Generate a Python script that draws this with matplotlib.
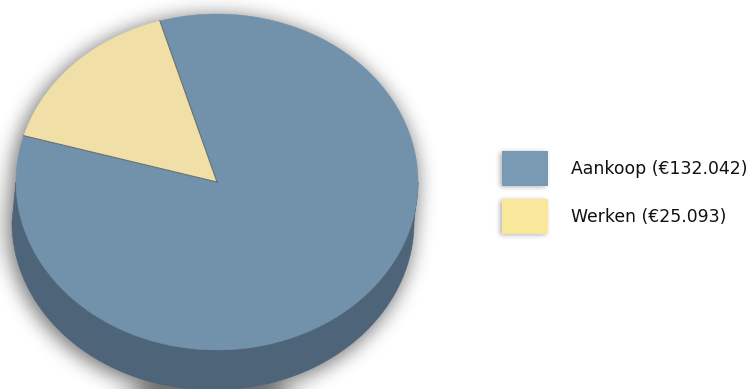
import numpy as np
import matplotlib.pyplot as plt
from matplotlib.patches import Polygon, Rectangle

labels = ['Aankoop', 'Werken']
values = [132042, 25093]
value_text = ['€132.042', '€25.093']
top_colors = ['#7291AB', '#F0DFA7']
side_colors = ['#4E6479', '#B8A878']
legend_colors = ['#7A9AB3', '#F9E79B']

W, H = 750, 389
cx, cy = 217, 182          # centre of top face (pixels)
rx, ry = 201, 168          # radii of top face
depth = 40                 # thickness of the disc
shift = -4                 # bottom face slightly shifted left
start = 164                # angle where Werken ends / Aankoop begins (deg)

fig = plt.figure(figsize=(W / 100, H / 100), dpi=100)
ax = fig.add_axes([0, 0, 1, 1])
ax.set_xlim(0, W)
ax.set_ylim(H, 0)
ax.axis('off')


def ell(a_deg, dx=0, dy=0):
    a = np.radians(a_deg)
    return np.column_stack([cx + dx + rx * np.cos(a), cy + dy - ry * np.sin(a)])


def blur(img, k, n=3):
    h, w = img.shape
    for _ in range(n):
        c = np.cumsum(np.pad(img, ((0, 0), (k, k + 1)), mode='edge'), axis=1)
        img = (c[:, 2 * k + 1:] - c[:, :-2 * k - 1]) / (2 * k + 1)
        c = np.cumsum(np.pad(img, ((k, k + 1), (0, 0)), mode='edge'), axis=0)
        img = (c[2 * k + 1:, :] - c[:-2 * k - 1, :]) / (2 * k + 1)
    return img[:h, :w]


# soft shadow under the disc
yy, xx = np.mgrid[0:H, 0:W]
mask = np.zeros((H, W))
for t in np.linspace(0, 1, 12):
    inside = ((xx - cx - shift * t) / (rx + 2)) ** 2 + ((yy - cy - depth * t - 6) / (ry + 2)) ** 2 <= 1
    mask = np.maximum(mask, inside)
mask = blur(mask, 9)
rgba = np.zeros((H, W, 4))
rgba[..., 3] = mask * 0.55
ax.imshow(rgba, extent=(0, W, H, 0), zorder=0, interpolation='bilinear')

# slice angles, going counter-clockwise from the start angle
total = sum(values)
angles = []
a0 = start
for v in values:
    a1 = a0 + 360 * v / total
    angles.append((a0, a1))
    a0 = a1

# side walls (front half only: 180..360 degrees)
for (a0, a1), col in zip(angles, side_colors):
    for off in (0, 360, -360):
        lo, hi = max(a0 + off, 180), min(a1 + off, 360)
        if hi <= lo:
            continue
        ts = np.linspace(lo, hi, 200)
        pts = np.vstack([ell(ts), ell(ts[::-1], shift, depth)])
        ax.add_patch(Polygon(pts, closed=True, fc=col, ec=col, lw=0.5, zorder=2))

# top face
for (a0, a1), col in zip(angles, top_colors):
    ts = np.linspace(a0, a1, 300)
    pts = np.vstack([[cx, cy], ell(ts)])
    ax.add_patch(Polygon(pts, closed=True, fc=col, ec=col, lw=0.3, zorder=3))
# thin dark slice edges
for a in (angles[1][0], angles[1][1]):
    p = ell([a])[0]
    ax.plot([cx, p[0]], [cy, p[1]], color='#4A5C6C', lw=0.8, zorder=4, alpha=0.8)

# legend swatches with a soft drop shadow
sh = np.zeros((H, W))
for i in range(len(labels)):
    y0 = 151 + i * 48
    sh[y0 + 4:y0 + 39, 503:549] = 1
sh = blur(sh, 2)
rgba2 = np.zeros((H, W, 4))
rgba2[..., 3] = sh * 0.3
ax.imshow(rgba2, extent=(0, W, H, 0), zorder=4, interpolation='bilinear')

for i, (lab, txt, col) in enumerate(zip(labels, value_text, legend_colors)):
    y0 = 151 + i * 48
    ax.add_patch(Rectangle((502, y0), 46, 35, fc=col, ec='none', zorder=5))
    ax.text(571, y0 + 18, f'{lab} ({txt})', fontsize=12.4, color='#111111',
            va='center', ha='left', zorder=6)

ax.set_xlim(0, W)
ax.set_ylim(H, 0)
fig.savefig('out.png', dpi=100)
